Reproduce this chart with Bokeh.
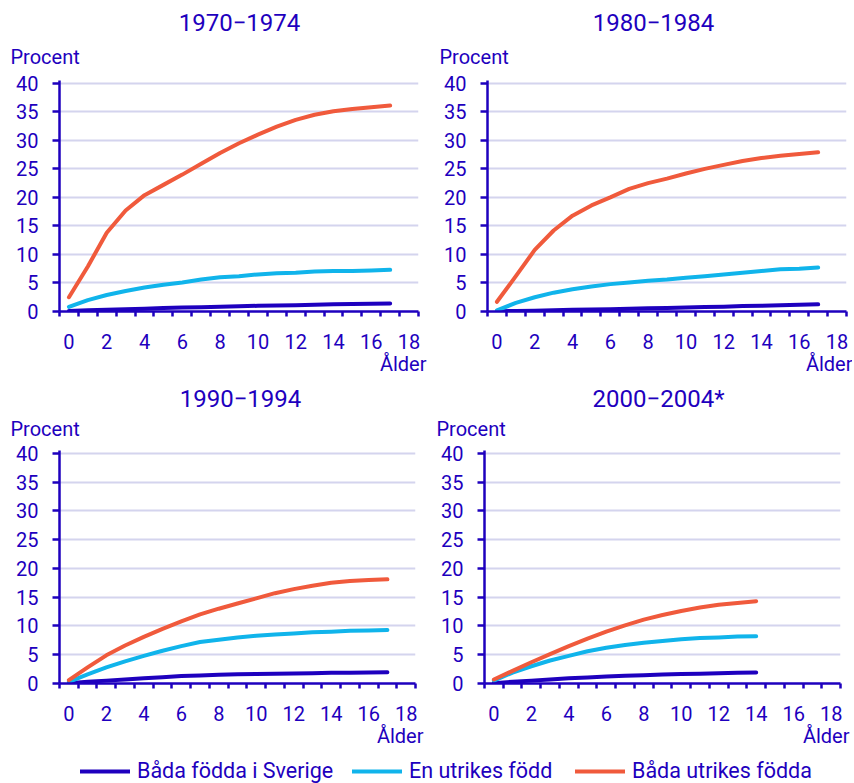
from bokeh.plotting import figure
from bokeh.models import Range1d, FixedTicker, Title, Legend, LegendItem
from bokeh.core.properties import value
from bokeh.layouts import column, row
from bokeh.embed import file_html
from bokeh.resources import INLINE

# ---------------- data ----------------
series_names = ["Båda födda i Sverige", "En utrikes född", "Båda utrikes födda"]
panel_titles = ["1970\u22121974", "1980\u22121984", "1990\u22121994", "2000\u22122004*"]
y_label = "Procent"
x_label = "Ålder"
x_ticks = [0, 2, 4, 6, 8, 10, 12, 14, 16, 18]
y_ticks = [0, 5, 10, 15, 20, 25, 30, 35, 40]

ages_17 = list(range(18))
ages_14 = list(range(15))

sverige_70 = [0.1, 0.2, 0.3, 0.4, 0.5, 0.6, 0.7, 0.75, 0.85, 0.9, 1.0, 1.05, 1.1, 1.2, 1.25, 1.3, 1.35, 1.4]
en_70 = [0.8, 2.0, 2.9, 3.6, 4.2, 4.7, 5.1, 5.6, 6.0, 6.2, 6.5, 6.7, 6.8, 7.0, 7.1, 7.1, 7.2, 7.3]
utr_70 = [2.5, 7.9, 13.8, 17.7, 20.4, 22.2, 24.0, 25.9, 27.8, 29.5, 31.0, 32.4, 33.6, 34.5, 35.1, 35.5, 35.8, 36.1]

sverige_80 = [0.05, 0.1, 0.15, 0.2, 0.3, 0.35, 0.4, 0.5, 0.55, 0.6, 0.7, 0.8, 0.85, 0.95, 1.0, 1.1, 1.2, 1.25]
en_80 = [0.2, 1.5, 2.5, 3.3, 3.9, 4.4, 4.8, 5.1, 5.4, 5.6, 5.9, 6.2, 6.5, 6.8, 7.1, 7.4, 7.5, 7.7]
utr_80 = [1.7, 6.2, 10.8, 14.2, 16.8, 18.6, 20.0, 21.5, 22.5, 23.3, 24.2, 25.0, 25.7, 26.4, 26.9, 27.3, 27.6, 27.9]

sverige_90 = [0.05, 0.3, 0.5, 0.7, 0.9, 1.1, 1.3, 1.4, 1.5, 1.6, 1.65, 1.7, 1.75, 1.8, 1.85, 1.85, 1.9, 1.95]
en_90 = [0.3, 1.6, 2.8, 3.85, 4.8, 5.7, 6.5, 7.2, 7.6, 8.0, 8.3, 8.5, 8.7, 8.9, 9.0, 9.15, 9.2, 9.3]
utr_90 = [0.6, 2.8, 4.9, 6.6, 8.1, 9.5, 10.8, 12.0, 13.0, 13.9, 14.8, 15.7, 16.4, 17.0, 17.5, 17.8, 18.0, 18.1]

sverige_00 = [0.05, 0.3, 0.5, 0.7, 0.9, 1.05, 1.2, 1.35, 1.45, 1.55, 1.65, 1.7, 1.8, 1.85, 1.9]
en_00 = [0.5, 1.9, 3.0, 4.0, 4.8, 5.6, 6.2, 6.7, 7.1, 7.4, 7.7, 7.9, 8.0, 8.15, 8.2]
utr_00 = [0.7, 2.2, 3.7, 5.1, 6.5, 7.8, 9.0, 10.1, 11.1, 11.9, 12.6, 13.2, 13.7, 14.0, 14.3]

# ---------------- style ----------------
DARK = "#1E00BE"
LIGHT = "#10B4EB"
ORANGE = "#F05A3C"
GRID = "#D4D4EE"
FONT = "Roboto"
COLORS = [DARK, LIGHT, ORANGE]
PAGE_W = 850


def panel(ages, series, bl, fw, br, bt, fh, bb, spacer, proc_off, alder_off):
    p = figure(width=bl + fw + br, height=bt + fh + bb,
               frame_width=fw, frame_height=fh,
               min_border_left=bl, min_border_right=br,
               min_border_top=bt, min_border_bottom=bb,
               x_range=Range1d(-0.5, 18.5), y_range=Range1d(0, 40.5),
               output_backend="svg", toolbar_location=None)
    p.outline_line_color = None
    p.xgrid.visible = False
    p.ygrid.grid_line_color = GRID
    p.ygrid.grid_line_width = 2

    p.xaxis.ticker = FixedTicker(ticks=x_ticks, minor_ticks=[a - 0.5 for a in range(20)])
    p.xaxis.major_tick_out = 0
    p.xaxis.major_tick_in = 0
    p.xaxis.minor_tick_out = 5
    p.xaxis.minor_tick_in = 0
    p.xaxis.minor_tick_line_color = DARK
    p.xaxis.minor_tick_line_width = 2.5
    p.xaxis.major_label_standoff = 17

    p.yaxis.ticker = FixedTicker(ticks=y_ticks)
    p.yaxis.major_tick_out = 7
    p.yaxis.major_tick_in = 0
    p.yaxis.minor_tick_out = 0
    p.yaxis.minor_tick_in = 0
    p.yaxis.major_label_standoff = 14

    for ax in (p.xaxis, p.yaxis):
        ax.axis_line_color = DARK
        ax.axis_line_width = 2.5
        ax.major_tick_line_color = DARK
        ax.major_tick_line_width = 2.5
        ax.major_label_text_color = DARK
        ax.major_label_text_font = FONT
        ax.major_label_text_font_size = "20px"

    for vals, c in zip(series, COLORS):
        p.line(ages, vals, line_color=c, line_width=4,
               line_cap="round", line_join="round")

    # spacer + "Procent" above the frame
    p.add_layout(Title(text=" ", text_font_size="1px", standoff=spacer), "above")
    p.add_layout(Title(text=y_label, align="left", offset=proc_off, standoff=0,
                       vertical_align="middle", text_font=FONT, text_font_size="20px",
                       text_font_style="normal", text_color=DARK), "above")
    # "Ålder" under the axis, right aligned
    p.add_layout(Title(text=x_label, align="right", offset=alder_off, standoff=0,
                       vertical_align="top", text_font=FONT, text_font_size="20px",
                       text_font_style="normal", text_color=DARK), "below")
    return p


def title_strip(height, titles, xs, y):
    s = figure(width=PAGE_W, height=height, x_range=Range1d(0, PAGE_W),
               y_range=Range1d(0, height), x_axis_type=None, y_axis_type=None,
               toolbar_location=None, output_backend="svg", min_border=0)
    s.outline_line_color = None
    s.xgrid.visible = False
    s.ygrid.visible = False
    s.text(x=xs, y=[y] * len(xs), text=titles, text_font=value(FONT),
           text_font_size="24px", text_color=DARK, text_align="center",
           text_baseline="middle")
    return s


strip_a = title_strip(40, panel_titles[:2], [239, 653], 18)
f1 = panel(ages_17, [sverige_70, en_70, utr_70], 59, 359, 18, 40, 231, 69, 8, -49, -8)
f2 = panel(ages_17, [sverige_80, en_80, utr_80], 51, 359, 6, 40, 231, 69, 8, -48, -6)
strip_b = title_strip(32, panel_titles[2:], [240, 658], 14)
f3 = panel(ages_17, [sverige_90, en_90, utr_90], 59, 356, 18, 38, 233, 72, 6, -49, -8)
f4 = panel(ages_14, [sverige_00, en_00, utr_00], 51, 356, 10, 38, 233, 72, 6, -48, -9)

# legend strip (legend glyphs come from off-screen copies of the series)
leg = figure(width=PAGE_W, height=28, x_range=Range1d(-100, -99), y_range=Range1d(0, 1),
             x_axis_type=None, y_axis_type=None, toolbar_location=None,
             output_backend="svg", min_border=0)
leg.outline_line_color = None
leg.xgrid.visible = False
leg.ygrid.visible = False
leg_x = [80, 352, 575]
for name, c, vals, lx in zip(series_names, COLORS, [sverige_70, en_70, utr_70], leg_x):
    r = leg.line(ages_17, vals, line_color=c, line_width=4, line_cap="round")
    lg = Legend(items=[LegendItem(label=name, renderers=[r])], location=(lx, 0),
                orientation="horizontal", glyph_width=50, glyph_height=20,
                label_standoff=7, padding=0, margin=0, spacing=0,
                border_line_color=None, background_fill_alpha=0,
                label_text_font=FONT, label_text_font_size="21.5px",
                label_text_color=DARK, label_height=20)
    leg.add_layout(lg)

layout = column(strip_a, row(f1, f2), strip_b, row(f3, f4), leg)
open("out.html", "w").write(file_html(layout, INLINE))
